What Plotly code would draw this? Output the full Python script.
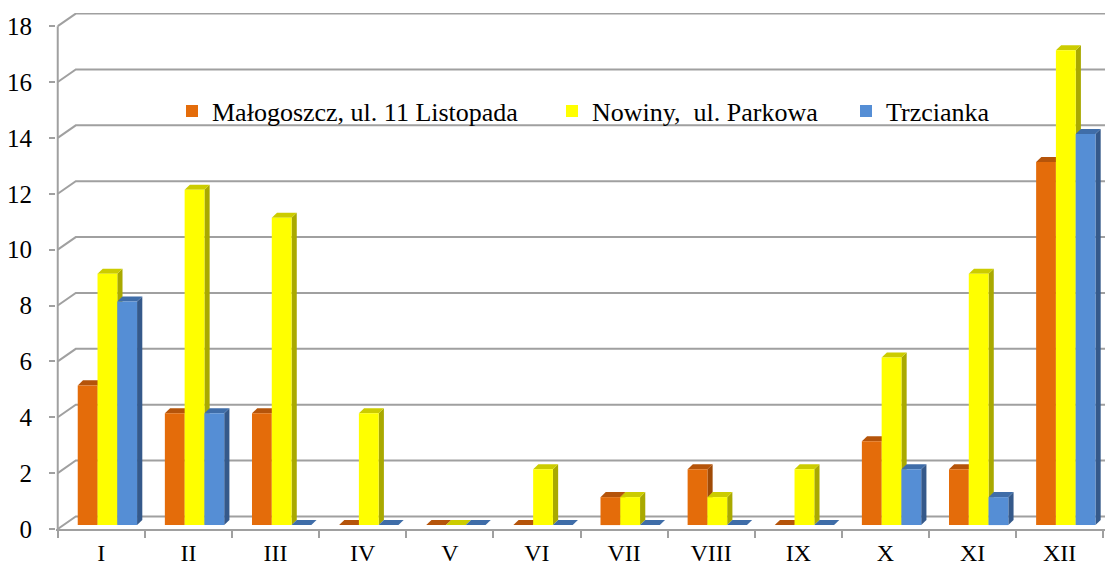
import plotly.graph_objects as go

# ---- data ----
months = ["I", "II", "III", "IV", "V", "VI", "VII", "VIII", "IX", "X", "XI", "XII"]
malogoszcz = [5, 4, 4, 0, 0, 0, 1, 2, 0, 3, 2, 13]
nowiny = [9, 12, 11, 4, 0, 2, 1, 1, 2, 6, 9, 17]
trzcianka = [8, 4, 0, 0, 0, 0, 0, 0, 0, 2, 1, 14]
series_names = ["Małogoszcz, ul. 11 Listopada", "Nowiny,  ul. Parkowa", "Trzcianka"]
y_ticks = [0, 2, 4, 6, 8, 10, 12, 14, 16, 18]

# ---- style ----
FONT = "Liberation Serif"
GRID = "#A0A0A0"
front_cols = ["#E46C0A", "#FFFF00", "#558ED5"]
top_cols = ["#B5540A", "#CCCC00", "#3F6DA8"]
side_cols = ["#A04A06", "#A9A900", "#35598A"]

W = 0.227          # bar width (data units)
OFF = 0.07         # group shift to the right
BASE = 0.14        # floor offset of bars
BDX, BDY = 0.06, 0.18   # bar depth
GDX, GDY = 0.207, 0.45  # wall depth
XR = [-0.52, 11.52]
YR = [0, 18.47]

series = [malogoszcz, nowiny, trzcianka]
n = len(months)

fig = go.Figure()

# back-wall grid lines with side-wall diagonals
gx, gy = [], []
for v in y_ticks:
    gx += [-0.5, -0.5 + GDX, XR[1] + 1, None]
    gy += [v, v + GDY, v + GDY, None]
fig.add_trace(go.Scatter(x=gx, y=gy, mode="lines", line=dict(color=GRID, width=2),
                         hoverinfo="skip", showlegend=False))
# front vertical axis line
fig.add_trace(go.Scatter(x=[-0.5, -0.5], y=[0, y_ticks[-1]], mode="lines",
                         line=dict(color=GRID, width=2), hoverinfo="skip", showlegend=False))

# 3D side & top faces (drawn under the front faces)
for i in range(n):
    for k, vals in enumerate(series):
        v = vals[i]
        xl = i - 1.5 * W + k * W + OFF
        xr = xl + W
        b = BASE
        t = BASE + v
        if v > 0:
            fig.add_trace(go.Scatter(
                x=[xr, xr + BDX, xr + BDX, xr, xr],
                y=[b, b + BDY, t + BDY, t, b],
                mode="lines", fill="toself", fillcolor=side_cols[k],
                line=dict(width=0, color=side_cols[k]), hoverinfo="skip", showlegend=False))
        fig.add_trace(go.Scatter(
            x=[xl, xl + BDX, xr + BDX, xr, xl],
            y=[t, t + BDY, t + BDY, t, t],
            mode="lines", fill="toself", fillcolor=top_cols[k],
            line=dict(width=0, color=top_cols[k]), hoverinfo="skip", showlegend=False))

# front faces as real bars on an overlaid subplot
legend_ids = ["legend", "legend2", "legend3"]
for k, vals in enumerate(series):
    xs = [i - 1.5 * W + k * W + OFF + W / 2 for i in range(n)]
    fig.add_trace(go.Bar(
        x=xs, y=vals, base=[BASE] * n, width=W, name=series_names[k],
        marker=dict(color=front_cols[k], line=dict(width=0)),
        xaxis="x2", yaxis="y2", legend=legend_ids[k]))

legend_px = [172, 552, 846]
common_leg = dict(orientation="h", yanchor="middle", y=0.81, xanchor="left",
                  bgcolor="rgba(0,0,0,0)", font=dict(family=FONT, size=26, color="black"),
                  itemclick=False)

fig.update_layout(
    width=1105, height=568,
    margin=dict(l=56, r=0, t=13, b=39),
    paper_bgcolor="white", plot_bgcolor="white",
    barmode="overlay",
    showlegend=True,
    legend=dict(x=(legend_px[0] - 56) / 1049, **common_leg),
    legend2=dict(x=(legend_px[1] - 56) / 1049, **common_leg),
    legend3=dict(x=(legend_px[2] - 56) / 1049, **common_leg),
    xaxis=dict(range=XR, tickmode="array", tickvals=list(range(n)), ticktext=months,
               ticks="", showgrid=False, zeroline=False, showline=True, automargin=False,
               linecolor=GRID, linewidth=2, ticklabelstandoff=1,
               tickfont=dict(family=FONT, size=24, color="black"),
               minor=dict(tickmode="array", tickvals=[i - 0.5 for i in range(n + 1)],
                          ticks="outside", ticklen=7, tickwidth=2, tickcolor=GRID,
                          showgrid=False)),
    yaxis=dict(range=YR, tickmode="array", tickvals=y_ticks, automargin=False,
               ticks="outside", ticklen=6, tickwidth=2, tickcolor=GRID,
               showgrid=False, zeroline=False, showline=False, ticklabelstandoff=12,
               tickfont=dict(family=FONT, size=25, color="black")),
    xaxis2=dict(range=XR, overlaying="x", anchor="y2", visible=False),
    yaxis2=dict(range=YR, overlaying="y", anchor="x2", visible=False),
)

fig.write_html("out.html", config={"displayModeBar": False},
               post_script="document.body.style.margin='0';")
